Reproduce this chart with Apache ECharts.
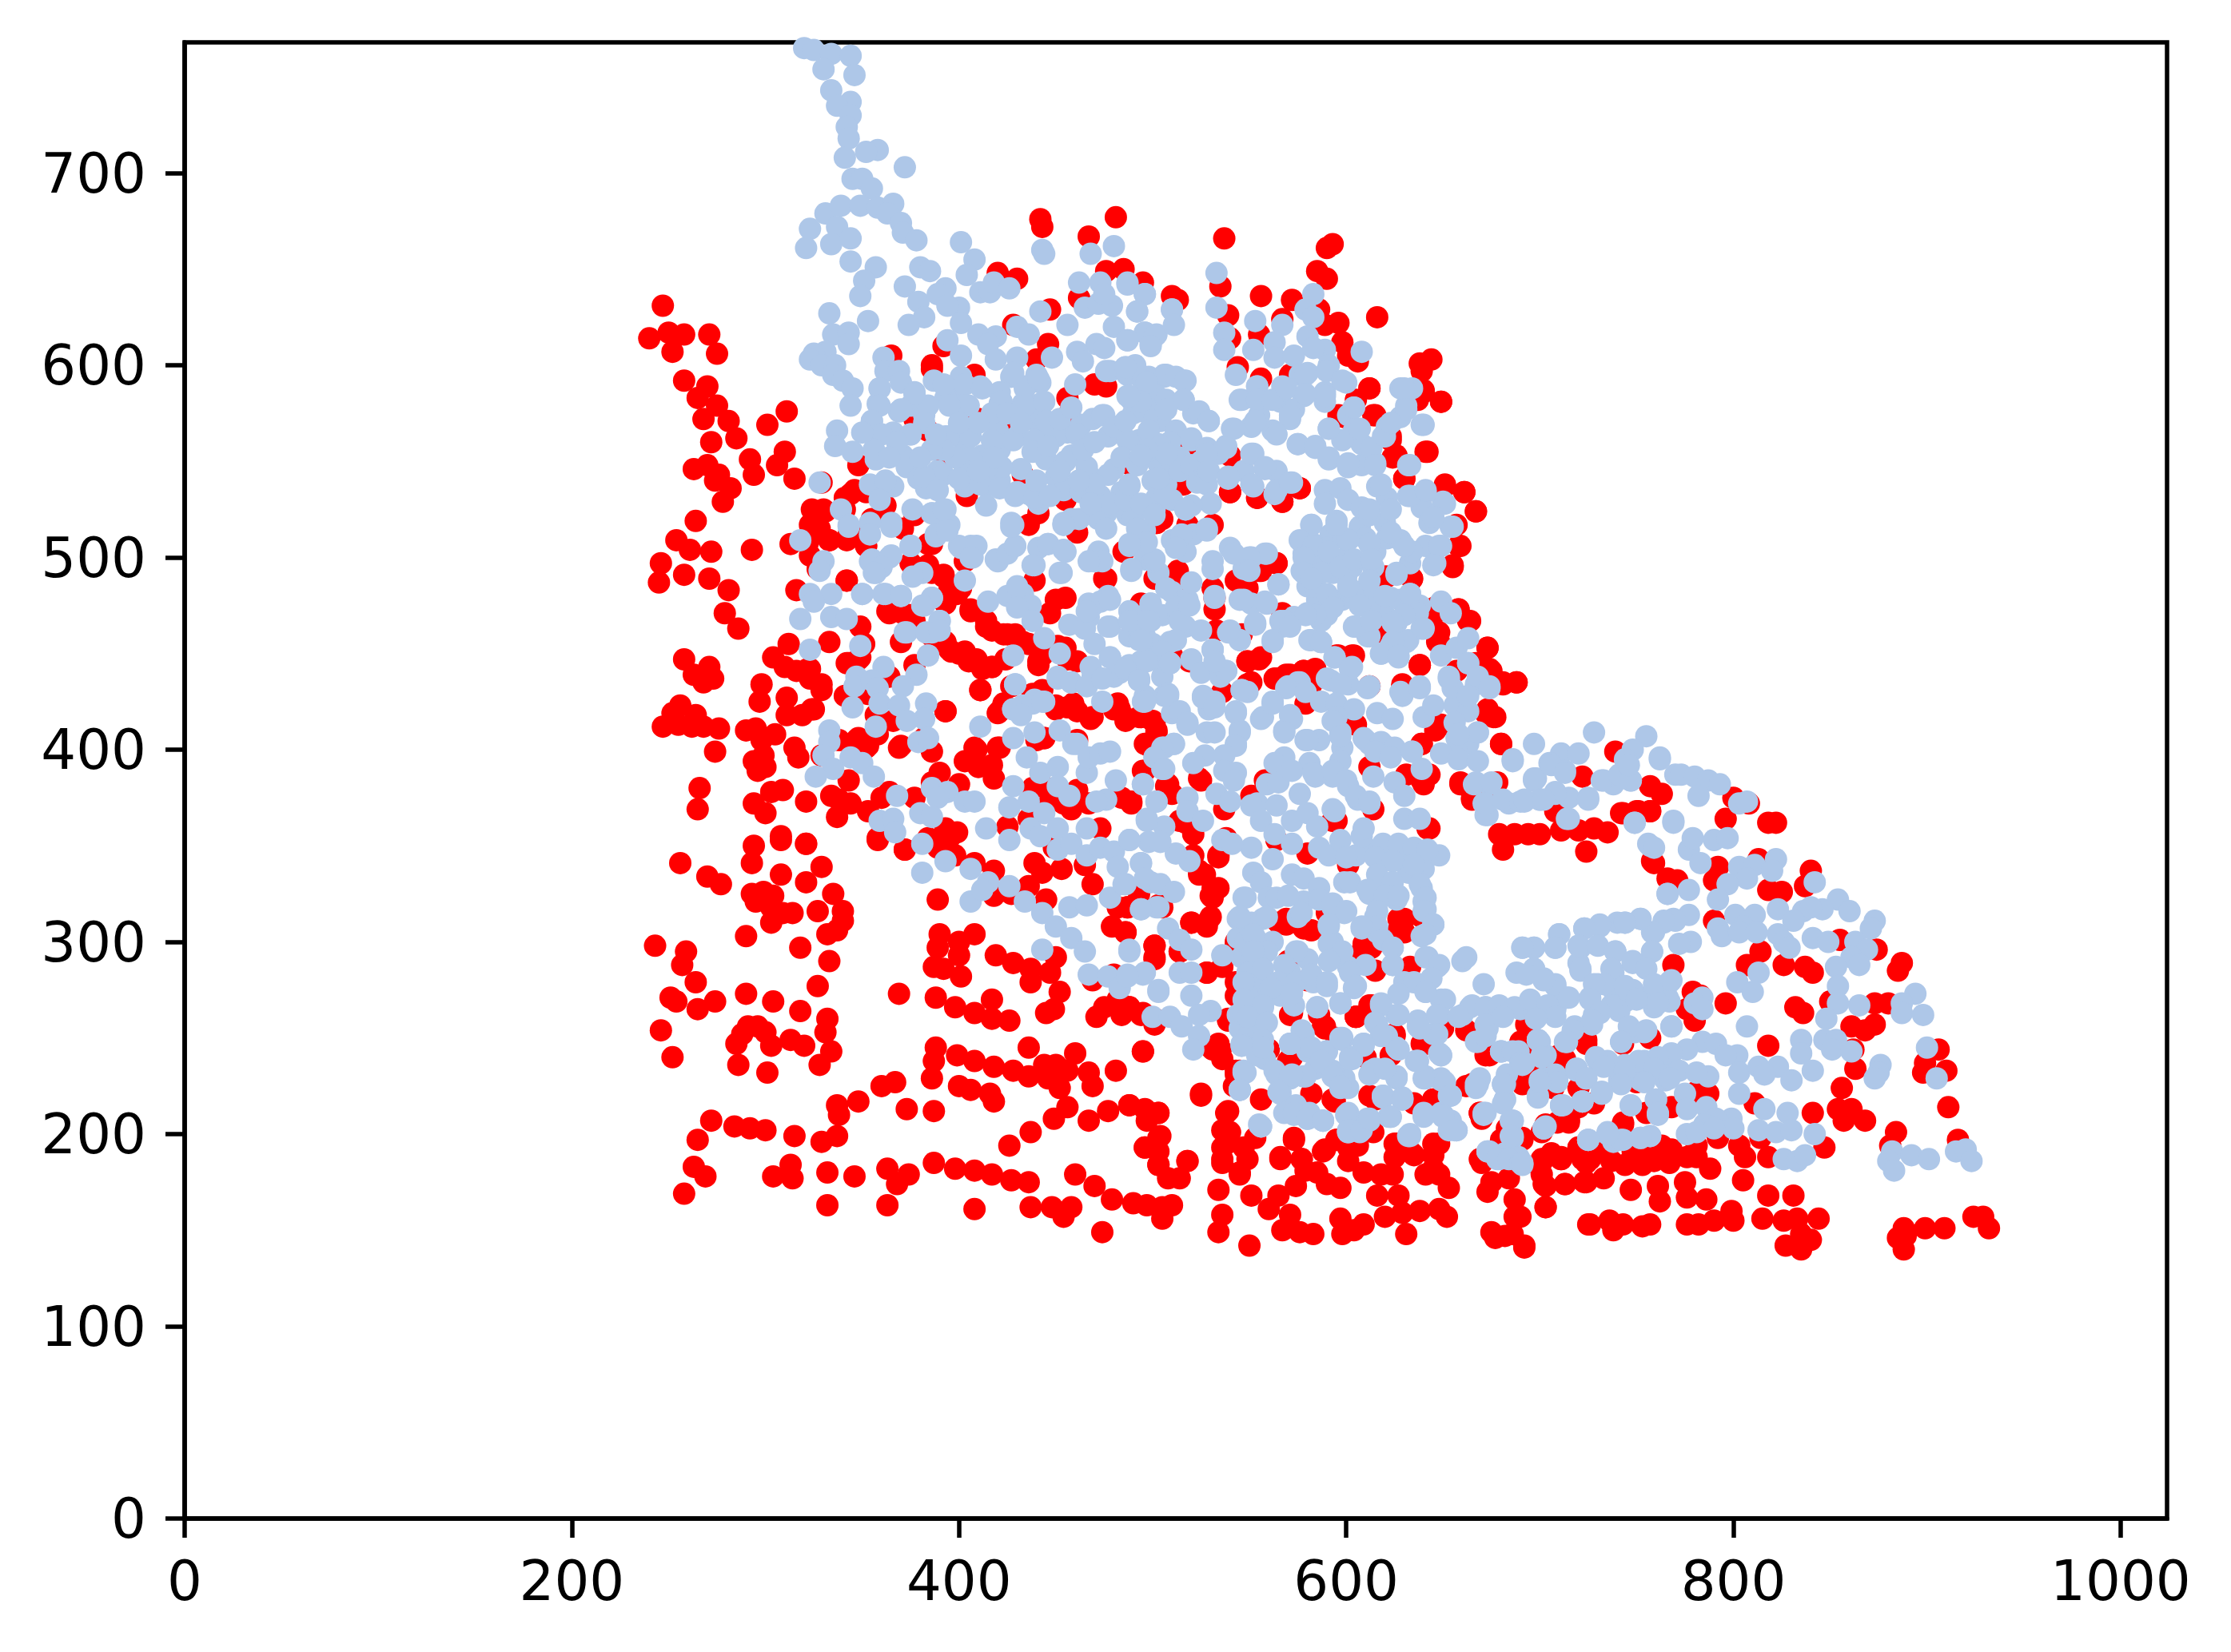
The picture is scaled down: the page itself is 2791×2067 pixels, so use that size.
<!DOCTYPE html>
<html>
<head>
<meta charset="utf-8">
<title>scatter</title>
<script src="https://cdn.jsdelivr.net/npm/echarts@6/dist/echarts.min.js"></script>
<style>
html, body { margin: 0; padding: 0; background: #fff; }
#chart { width: 2791px; height: 2067px; }
</style>
</head>
<body>
<div id="chart"></div>
<script>
// tick labels
var xTicks = [0, 200, 400, 600, 800, 1000];
var yTicks = [0, 100, 200, 300, 400, 500, 600, 700];

// red points
var redLowerLeft = [[256,341],[270,334],[277,330],[293,341],[294,350],[308,353],[321,351],[308,335],[329,339],[321,331],[335,325],[293,325],[299,326],[304,324],[295,321],[303,318],[309,315],[314,315],[303,310],[327,316],[340,316],[340,311],[337,306],[332,304],[290,303],[318,297],[333,290],[243,298],[259,295],[257,288],[264,279],[251,271],[254,269],[265,265],[274,269],[246,254],[252,240],[290,273],[304,269],[318,264],[327,277],[332,260],[331,253],[334,243],[328,236],[286,236],[301,232],[285,247],[288,252],[291,256],[296,256],[300,253],[303,246],[313,249],[320,246]];
var redBottomLeft = [[272,207],[265,197],[284,204],[292,203],[300,202],[315,199],[329,196],[337,199],[337,215],[338,210],[348,217],[360,225],[367,227],[373,213],[387,212],[263,183],[269,178],[258,169],[313,184],[304,178],[314,177],[332,180],[346,178],[363,182],[374,179],[368,174],[332,163],[363,163]];
var redBottomMid = [[386,229],[387,238],[388,245],[399,241],[408,238],[418,235],[428,233],[436,230],[444,236],[450,236],[446,229],[452,224],[456,233],[467,232],[469,225],[460,242],[436,245],[495,243],[481,233],[400,225],[406,223],[416,221],[418,217],[456,214],[449,208],[477,212],[467,207],[488,215],[496,213],[503,211],[497,207],[503,198],[496,193],[503,191],[503,184],[508,177],[518,186],[514,177],[437,201],[426,194],[387,185],[398,182],[408,181],[417,179],[427,176],[436,175],[460,179],[470,173],[479,166],[490,164],[497,163],[505,162],[510,163],[505,156],[454,157],[437,162],[448,162],[458,162],[408,161],[474,149]];
var redCentreLow = [[389,322],[390,304],[389,297],[387,287],[392,286],[401,282],[400,300],[400,293],[408,304],[419,293],[428,289],[437,286],[437,279],[450,292],[447,284],[452,274],[369,273],[388,271],[398,266],[408,263],[417,260],[417,270],[426,259],[445,263],[449,265],[471,261],[475,266],[484,262],[482,270],[488,266],[495,263],[501,260],[439,341],[443,336],[453,338],[465,340],[469,330],[418,337],[408,341],[398,345],[389,349],[372,348],[358,353],[436,329],[445,322],[427,325],[418,324],[487,318],[479,308],[486,305],[501,298],[501,292],[514,295],[503,319],[493,325],[469,280],[480,283]];
var redUpperLeft = [[264,519],[254,509],[261,504],[272,503],[246,497],[258,491],[245,487],[271,489],[281,483],[279,471],[286,463],[293,504],[258,447],[271,443],[263,439],[268,435],[273,437],[256,423],[252,419],[264,418],[247,412],[255,413],[262,412],[268,412],[276,411],[274,399],[290,410],[295,411],[305,408],[298,405],[299,397],[294,394],[300,391],[296,389],[266,380],[265,369],[303,378],[309,379],[294,372],[300,367],[321,373],[308,355],[321,351],[298,434],[297,425],[311,427],[311,418],[319,418],[325,421],[315,401],[317,396],[304,448],[312,455],[310,443],[316,441],[322,442],[323,437],[329,434],[333,456],[313,507],[333,509],[323,517],[323,501],[327,494],[342,488],[316,483],[343,512],[352,506]];
var redTopLeft = [[247,631],[240,614],[250,617],[258,616],[271,616],[252,607],[275,606],[258,592],[270,589],[265,583],[275,579],[268,572],[281,571],[272,560],[285,562],[301,569],[270,548],[263,546],[276,543],[274,540],[292,551],[294,543],[310,555],[306,548],[282,536],[278,529],[315,541],[329,539],[341,531],[346,535],[331,524],[341,525],[328,515],[344,512],[355,520],[351,513],[377,522],[371,515],[311,576],[386,600],[344,533],[322,508]];
var redCentreMid = [[343,445],[348,447],[351,455],[341,428],[364,438],[349,464],[370,456],[363,472],[371,471],[377,467],[375,497],[384,496],[392,490],[395,483],[401,484],[393,476],[406,472],[414,467],[417,462],[423,460],[429,460],[436,455],[443,449],[441,444],[451,454],[456,447],[403,498],[386,507],[403,451],[396,451],[409,447],[405,446],[412,442],[417,443],[424,447],[393,456],[377,444],[411,431],[427,433],[438,429],[423,424],[420,419],[443,431],[450,423],[456,422],[461,420],[468,416],[482,424],[480,421],[487,416],[493,417],[500,415],[502,410],[498,402],[393,420],[353,429],[358,408],[347,405],[352,401],[369,401],[386,399],[382,406],[366,415],[357,418],[409,400],[420,401],[403,394],[410,391],[417,392],[418,385],[400,382],[390,388],[386,383],[377,375],[364,378],[360,375],[353,368],[334,376],[344,372],[337,365],[338,374],[343,384],[338,405],[329,397],[438,380],[445,380],[461,379],[447,373],[454,372],[458,369],[467,372],[473,359],[425,360],[436,364],[440,405],[444,406],[461,405],[475,489],[489,373],[484,375],[495,389],[393,359],[399,357],[384,354],[395,354],[372,348],[358,354],[449,349],[482,318]];
var redTop = [[442,676],[443,672],[467,667],[481,677],[537,666],[590,661],[593,663],[585,649],[590,645],[535,641],[556,636],[572,634],[616,625],[539,626],[596,622],[567,624],[555,616],[540,614],[598,612],[606,602],[601,605],[586,629],[589,621],[510,636],[495,643],[485,650],[476,649],[462,635],[447,629],[430,645],[420,648],[513,634],[465,631],[446,611],[428,621],[440,603],[408,595],[392,610],[401,580],[410,572],[365,605],[386,598],[425,565],[440,560],[455,530],[470,590],[457,575],[544,599],[556,593],[571,595],[612,588],[638,601],[644,603],[639,597],[640,587],[649,581],[637,582],[614,574],[599,573],[642,555],[623,563],[626,553],[630,541],[651,537],[661,534],[667,524],[657,517],[658,506],[655,495],[634,489],[621,490]];
var redRightUpper = [[564,497],[555,493],[540,534],[554,531],[567,529],[576,536],[547,482],[532,479],[505,520],[518,517],[531,517],[518,556],[540,553],[549,446],[555,447],[638,444],[673,453],[674,442],[688,435],[681,435],[658,473],[663,467],[646,474],[648,461],[648,456],[603,449],[596,449],[578,441],[571,439],[563,437],[551,435],[629,434],[657,441],[667,445],[582,434],[612,433],[533,462],[546,460],[612,464],[615,466],[567,471],[510,449],[519,446],[494,476],[502,518],[514,485],[501,489]];
var redMidRight = [[681,348],[724,347],[759,341],[679,356],[687,356],[700,356],[711,358],[720,358],[735,357],[728,359],[694,356],[708,368],[722,386],[739,399],[659,382],[665,375],[676,382],[680,403],[639,403],[649,413],[672,419],[676,417],[742,367],[751,368],[757,368],[757,381],[763,377],[766,333],[501,414],[494,417],[486,415],[497,403],[496,389],[508,382],[510,377],[525,384],[520,361],[514,363],[489,372],[564,353],[580,346],[538,354],[558,384],[551,376],[593,363],[601,340],[612,391],[639,384],[643,359]];
var redDenseCore = [[520,310],[530,313],[528,308],[534,328],[524,335],[531,323],[528,284],[536,287],[543,300],[514,295],[501,298],[501,291],[486,305],[487,318],[505,318],[534,344],[521,345],[527,335],[630,305],[639,313],[627,312],[612,305],[608,295],[569,312],[578,307],[543,272],[488,266],[494,262],[501,257],[539,259],[534,247],[536,239],[545,233],[542,225],[560,244],[571,239],[588,256],[586,262],[571,262],[605,261],[612,267],[625,252],[641,247],[623,241],[665,226],[662,254],[672,241],[691,247],[710,241],[691,226],[700,234],[720,224],[715,206],[724,247],[693,257],[645,218],[615,218],[593,218],[582,221],[570,290],[590,315],[600,290],[615,285],[580,280],[560,275],[595,250],[610,240],[650,255]];
var redCoreExtra = [[630,312],[609,299],[613,297],[627,306],[569,309],[565,310],[582,306],[633,287],[613,267],[589,255],[572,263],[605,261],[570,238],[625,251],[639,247],[674,241],[695,230],[690,248],[699,240],[614,369],[595,363],[642,359],[643,387],[631,387],[640,382],[659,383],[678,383],[665,374],[517,362],[521,356],[507,381],[524,385],[537,369],[534,345],[524,337],[531,328],[530,324],[520,310],[528,310],[528,284],[543,298],[543,279],[539,260],[535,244],[543,231],[525,220],[594,218],[647,216],[670,208],[684,203]];
var redLowCentre = [[495,243],[525,221],[488,215],[497,212],[503,211],[504,199],[496,193],[503,184],[518,186],[538,211],[540,201],[536,193],[547,193],[536,185],[545,180],[553,198],[573,198],[566,187],[577,187],[589,192],[601,193],[595,197],[614,201],[626,195],[634,190],[645,195],[625,188],[645,182],[669,187],[680,197],[691,197],[702,187],[711,187],[726,187],[743,205],[720,193],[737,186],[748,188],[759,190],[768,192],[709,206],[669,211],[683,203]];
var redLowStrip = [[539,212],[536,202],[538,195],[536,187],[549,187],[545,179],[534,171],[551,168],[560,161],[565,168],[574,173],[536,158],[534,149],[550,142],[567,150],[571,158],[576,149],[583,148],[573,197],[566,188],[577,187],[579,181],[588,191],[595,197],[606,194],[601,186],[585,180],[590,174],[597,172],[609,180],[618,179],[624,179],[616,168],[627,168],[620,157],[629,159],[638,160],[648,161],[652,157],[653,172],[641,179],[648,179],[626,190],[635,189],[645,189],[648,195],[625,195],[597,156],[609,153],[604,150],[598,148],[631,148],[670,185],[675,175],[684,177],[673,170],[687,166],[687,157],[675,149],[677,146],[682,147],[686,148],[692,141],[703,162],[701,179],[703,173],[713,174],[723,175],[725,153],[701,187],[711,187],[722,187],[531,244],[535,244],[543,233],[556,218],[572,240],[589,256],[605,261],[594,217],[612,220],[635,216],[645,218],[662,225],[669,211],[684,202],[690,198],[701,201],[715,207]];
var redRightEdge = [[822,362],[818,362],[808,372],[796,364],[800,375],[758,342],[767,332],[771,332],[790,332],[792,339],[813,343],[818,327],[825,326],[840,337],[837,329],[887,289],[885,285],[874,296],[855,301],[807,288],[814,295],[826,288],[837,287],[841,284],[769,288],[790,311],[796,268],[779,274],[783,272],[776,265],[780,259],[787,221],[832,266],[836,263],[850,269],[873,268],[880,268],[873,257],[868,254],[861,256],[862,244],[863,234],[906,244],[899,237],[898,232],[910,233],[911,214],[856,224],[854,213],[861,213],[868,207],[857,207],[841,211],[818,246],[811,216],[847,193],[884,201],[881,194],[916,197],[743,367],[750,368],[757,368]];
var redLowRight = [[744,184],[753,184],[759,186],[767,185],[776,188],[781,188],[788,182],[748,191],[763,194],[781,194],[792,198],[803,194],[806,188],[818,188],[814,198],[720,193],[733,191],[724,185],[711,188],[706,190],[700,183],[702,174],[713,174],[724,175],[733,177],[703,162],[690,157],[692,142],[747,171],[761,173],[762,165],[775,175],[776,167],[786,166],[805,176],[818,168],[831,168],[726,153],[736,155],[738,150],[743,153],[753,152],[757,153],[776,153],[782,153],[790,155],[799,160],[800,155],[815,156],[826,155],[833,156],[844,156],[835,148],[840,145],[827,142],[835,140],[888,151],[899,151],[909,151],[885,146],[889,147],[888,140],[924,157],[929,157],[932,151],[715,208],[743,206],[703,205],[691,198],[713,239],[707,224],[720,214],[728,216],[750,227],[781,222],[768,214],[755,211],[757,250],[743,247],[724,249]];
var redBand = [[386,492],[392,491],[399,481],[406,473],[414,464],[425,460],[433,456],[441,446],[455,453],[461,446],[400,450],[408,446],[417,443],[395,452],[386,459],[364,471],[375,470],[450,478],[455,479],[447,471],[439,488],[469,417],[483,421],[494,417],[502,409],[496,403],[450,421],[459,424],[421,420],[411,431],[393,420],[370,402],[408,401],[421,401],[444,406],[348,406],[353,402],[324,421],[342,445],[349,448],[323,442],[329,431],[342,488],[333,509],[324,525],[330,525],[324,518],[352,506],[502,518],[476,489],[485,503],[456,583],[476,589],[489,548],[516,538],[513,493],[473,524],[441,523],[436,517],[461,513],[433,543],[404,532],[393,552],[377,572],[384,566],[348,548],[352,534],[362,527],[342,509],[384,507]];
var redRightBlob = [[612,588],[640,586],[649,581],[641,555],[624,552],[630,541],[651,538],[661,534],[667,524],[659,506],[655,496],[634,489],[620,490],[576,536],[567,529],[554,531],[540,534],[564,497],[556,493],[549,446],[556,448],[638,444],[673,453],[675,441],[688,435],[681,434],[658,473],[664,467],[645,470],[646,461],[647,456],[604,449],[595,449],[584,442],[578,441],[569,439],[564,437],[549,434],[536,430],[629,433],[618,461],[613,464],[677,417],[673,421],[646,410],[680,403],[639,403],[579,424],[605,413],[531,484],[549,484],[543,488],[532,473],[615,574],[605,582],[596,574],[623,561]];

// light blue points, drawn over the red ones
var blueTopStem = [[320,765],[325,764],[334,762],[344,761],[330,754],[346,751],[334,743],[344,737],[337,735],[344,730],[342,724],[343,718],[358,712],[352,711],[341,708],[372,703],[345,697],[350,697],[355,692],[331,679],[339,683],[349,683],[358,682],[366,684],[363,679],[370,674],[371,669],[378,665],[337,672],[323,671],[321,661],[334,663],[344,666],[344,654],[357,651],[351,644],[349,636]];
var blueUpperA = [[401,664],[408,655],[404,647],[411,638],[416,638],[418,643],[426,640],[443,660],[444,658],[468,658],[480,662],[380,651],[385,649],[372,641],[379,633],[393,640],[389,637],[400,630],[394,631],[382,625],[374,621],[401,622],[333,627],[353,623],[335,616],[343,617],[343,611],[331,607],[325,606],[323,603],[329,600],[336,600],[335,595],[340,592],[345,588],[344,579],[394,613],[401,605],[410,616],[419,615],[415,611],[430,620],[436,616],[442,628],[456,621],[462,643],[473,643],[487,643],[496,637],[492,628],[465,630],[472,632],[479,631],[475,637],[480,620],[471,611],[475,609],[487,613],[496,617],[502,616],[499,611],[510,629],[448,604],[461,607],[464,602],[460,590]];
var blueUpperB = [[419,603],[430,604],[440,595],[442,591],[427,594],[434,588],[361,604],[362,597],[369,597],[370,591],[359,588],[358,580],[377,586],[375,579],[382,574],[369,576],[355,571],[387,592],[398,588],[411,589],[401,594],[421,586],[421,580],[393,583],[405,579],[417,574],[433,580],[442,580],[440,571],[337,566],[336,558],[366,565],[375,564],[393,563],[403,560],[420,566],[430,563],[445,566],[456,565],[463,569],[475,574],[489,582],[478,597],[486,599],[491,599],[498,594],[506,594],[502,584],[495,576],[504,571],[356,556],[357,551],[371,553],[373,547],[379,541],[389,545],[383,536],[403,548],[412,553],[421,556],[403,537],[414,537],[421,540],[432,546],[436,533],[429,532],[441,528],[445,551],[458,553],[467,543],[480,546],[488,537],[476,523],[454,535],[458,520],[502,553],[493,561],[500,540],[487,522],[501,525],[328,539],[354,538],[366,537],[362,540],[359,530],[339,525],[376,525],[393,525],[386,523],[414,527],[343,517],[354,518],[365,518],[395,517],[427,518],[454,517]];
var blueDenseLeft = [[392,590],[403,590],[412,588],[422,581],[417,575],[403,579],[395,579],[384,579],[377,585],[370,577],[382,570],[375,564],[359,588],[359,579],[355,571],[360,564],[356,556],[395,563],[406,563],[417,561],[428,561],[439,561],[450,563],[461,564],[469,572],[474,574],[477,563],[487,561],[406,552],[422,547],[414,546],[403,545],[392,543],[382,542],[389,535],[400,541],[411,538],[421,536],[430,534],[439,531],[450,542],[455,550],[466,547],[477,543],[455,536],[463,534],[473,532],[484,534],[490,521],[496,514],[488,506],[472,520],[462,520],[454,518],[472,503],[470,498],[503,549],[502,557],[496,554],[507,538],[502,531],[517,525],[510,509],[517,503],[496,499],[503,492],[510,482],[518,478],[496,470],[469,475],[467,469],[477,480],[478,464],[488,459],[496,459],[509,456],[517,464],[494,446],[478,448],[493,437],[509,445],[434,589],[441,593],[428,596],[434,579],[444,581],[445,571],[476,597],[487,595],[495,592],[506,595],[516,592],[487,584],[516,582],[507,582],[498,575],[490,575],[521,575],[503,559],[520,561],[510,547],[523,539]];
var blueDenseLow = [[433,481],[428,481],[419,499],[429,506],[439,496],[446,507],[455,503],[453,492],[406,506],[400,506],[407,500],[390,514],[388,511],[386,523],[392,525],[428,517],[375,506],[355,499],[364,500],[357,492],[362,481],[370,480],[350,481],[382,475],[386,479],[390,467],[386,461],[373,461],[384,449],[469,438],[458,435],[451,437],[429,434],[433,423],[428,421],[439,426],[444,425],[507,428],[510,419],[518,413],[511,403],[461,403]];
var blueSolidFill = [[425,575],[432,570],[438,555],[446,558],[452,572],[458,578],[464,556],[470,560],[480,568],[484,552],[492,548],[498,566],[512,566],[514,552],[509,560],[470,538],[478,528],[486,530],[494,528],[510,530],[514,545],[520,548],[527,546],[440,540],[447,532],[452,545],[462,540],[468,528],[418,552],[410,545],[398,552],[392,556],[386,556],[380,552],[410,570],[400,570],[388,564],[368,560],[364,552],[350,565],[345,555],[585,498],[592,512],[600,500],[607,516],[615,503],[620,518],[600,490],[607,482],[590,470],[598,478],[585,478],[613,480],[620,470],[628,478],[580,485],[544,302],[546,292],[544,262],[545,255],[550,252],[553,278],[555,268],[548,300],[610,349],[628,345],[640,338],[632,336],[648,345],[605,345],[505,470],[512,474],[470,455],[505,438],[480,438],[500,455]];
var blueLeftMid = [[318,509],[330,498],[328,493],[343,516],[354,512],[365,516],[375,506],[388,512],[394,514],[401,505],[409,506],[406,500],[420,498],[425,502],[429,506],[441,505],[446,507],[454,504],[438,496],[452,492],[427,516],[454,517],[476,515],[489,493],[474,498],[467,498],[500,498],[354,498],[365,501],[360,495],[356,492],[381,492],[376,490],[403,488],[323,481],[334,481],[325,477],[350,481],[361,481],[370,480],[386,479],[381,475],[415,477],[425,480],[430,485],[437,475],[430,474],[438,467],[318,468],[334,469],[342,468],[390,467],[383,461],[390,462],[372,461],[457,465],[444,458],[465,463],[467,476],[473,477],[478,478],[466,472],[477,464],[488,472],[493,467],[499,467],[499,476],[493,457],[502,470],[323,452],[349,454],[384,449],[428,449],[452,450],[478,448],[468,443],[483,440],[493,436],[488,444],[499,447],[505,451]];
var blueLeftLow = [[361,443],[378,439],[347,438],[346,433],[355,436],[371,433],[358,432],[359,424],[369,423],[345,422],[383,424],[382,416],[373,415],[357,412],[333,410],[333,404],[330,397],[344,396],[350,393],[335,390],[326,386],[356,386],[379,404],[384,406],[411,412],[428,406],[439,409],[435,396],[429,434],[428,421],[438,424],[443,425],[432,418],[451,438],[458,435],[466,433],[474,437],[474,425],[495,425],[506,428],[452,410],[459,403],[466,388],[467,396],[473,398],[478,399],[481,384],[476,374],[471,373],[495,382],[502,373],[501,396],[506,401],[505,390],[497,364],[506,360],[498,352],[442,388],[451,391],[451,381],[457,376],[428,381],[436,373],[426,370],[444,367],[437,359],[451,359],[466,359],[442,355],[414,359],[426,353],[381,351],[393,342],[381,336],[406,338],[415,331],[426,329],[406,321],[412,327],[434,321],[443,315],[450,308],[458,302],[465,295],[443,296],[457,318],[466,319],[488,296],[467,283],[477,282],[487,283],[495,283],[483,276],[503,275],[451,348],[458,351],[466,345],[473,349],[480,347],[488,353],[482,339],[494,341],[499,331],[486,330],[478,323],[494,317],[503,318],[386,380],[394,378],[403,373],[408,373],[389,375],[368,376],[380,367],[386,365],[359,363],[366,364],[367,357]];
var blueCentreTop = [[533,648],[533,630],[487,642],[496,637],[492,628],[510,629],[511,621],[496,617],[487,613],[501,615],[499,610],[537,617],[537,608],[553,623],[567,621],[552,608],[563,612],[563,604],[573,605],[583,637],[579,629],[583,625],[580,615],[589,608],[583,609],[608,607],[591,600],[543,595],[554,589],[580,596],[576,595],[600,591],[589,586],[589,581],[567,589],[578,584],[546,582],[556,581],[566,581],[573,577],[571,572],[555,574],[551,568],[562,566],[541,567],[491,600],[486,599],[507,595],[512,594],[517,592],[497,591],[516,582],[507,577],[494,581],[524,576],[529,571],[488,584],[486,571],[520,562],[538,558],[528,557],[504,558],[507,554],[497,556],[494,553],[525,550],[534,554],[539,541],[528,538],[506,533],[503,541],[488,538],[530,528],[520,527],[517,525],[501,522],[492,515],[552,554],[552,537],[563,533],[572,539],[558,546],[547,545],[564,545],[575,559],[584,558],[591,551],[591,567],[601,547],[608,548],[615,549],[604,566],[601,574],[604,578],[608,559],[621,568],[619,563],[628,573],[631,579],[628,588],[634,588],[639,569],[632,548]];
var blueCentreRight = [[616,537],[589,535],[597,536],[589,528],[601,530],[608,526],[612,522],[621,531],[632,532],[641,534],[650,529],[639,526],[654,516],[643,518],[582,517],[595,519],[577,508],[583,507],[578,502],[590,505],[599,510],[610,510],[621,510],[628,509],[649,506],[641,506],[646,497],[633,497],[626,491],[577,493],[584,485],[593,492],[603,495],[614,495],[603,482],[593,475],[612,474],[623,479],[633,481],[638,475],[639,463],[626,466],[604,464],[611,459],[632,457],[623,454],[627,448],[618,450],[649,477],[654,471],[649,449],[657,453],[663,458],[663,445],[653,437],[674,433],[667,434],[638,433],[628,430],[612,433],[601,434],[594,448],[603,443],[592,436],[580,471],[573,469],[566,467],[567,464],[562,457],[581,457],[587,456],[587,467],[565,486],[559,502],[551,500],[547,494],[540,505],[531,494],[528,515],[521,512],[515,512],[532,480],[545,478],[551,476],[559,476],[553,465],[545,457],[540,462],[525,462],[514,467],[519,475],[512,457],[499,476],[489,494],[501,499],[507,484],[520,487],[512,505],[497,508],[488,507],[488,467],[498,467],[494,457],[531,452],[505,451],[509,445],[520,447],[525,440],[538,441],[535,438],[497,446],[486,442],[493,436],[508,429],[526,428],[546,431],[570,433],[576,435],[496,428]];
var blueDenseRight = [[545,582],[554,589],[554,582],[562,582],[569,588],[579,595],[590,597],[589,584],[598,592],[579,585],[571,574],[553,571],[542,567],[529,571],[538,557],[528,554],[529,545],[539,542],[551,554],[551,538],[558,547],[564,535],[571,539],[564,564],[575,559],[584,557],[591,552],[601,549],[598,561],[604,578],[591,567],[607,567],[613,557],[620,563],[615,548],[630,588],[631,577],[623,570],[640,569],[633,548],[618,538],[612,525],[623,525],[633,532],[641,535],[651,528],[655,516],[645,521],[648,506],[645,496],[634,503],[626,492],[630,506],[623,513],[612,507],[601,509],[595,517],[582,517],[576,509],[583,506],[591,503],[578,500],[578,492],[587,492],[597,495],[604,499],[613,499],[612,488],[601,485],[590,481],[582,489],[593,474],[607,475],[620,480],[633,481],[637,471],[630,470],[624,466],[640,463],[631,456],[624,456],[618,450],[627,449],[612,459],[605,464],[613,467],[584,470],[579,470],[568,467],[571,464],[562,456],[582,457],[587,456],[594,448],[602,442],[590,437],[597,434],[611,432],[575,435],[569,432],[562,425],[579,430],[587,425],[595,424],[604,421],[616,419],[624,416],[640,417],[629,428],[638,432],[645,423],[656,423],[663,420],[655,432],[653,438],[663,445],[668,438],[674,432],[663,428],[656,414],[668,409],[657,406],[663,403],[657,399],[634,399],[620,402],[612,403],[609,406],[598,401],[597,409],[595,417],[579,405],[586,405],[568,410],[572,416],[557,417],[543,420],[545,410],[529,421],[528,409],[543,403],[532,425],[527,427],[549,430],[538,441],[531,452],[532,446],[553,466],[545,457],[539,461],[558,477],[547,478],[532,479],[565,486],[558,502],[550,500],[542,502],[531,498],[528,514],[550,493]];
var blueCoreA = [[496,425],[508,428],[514,420],[526,427],[532,422],[546,431],[556,416],[562,424],[571,418],[568,409],[543,419],[545,409],[532,409],[518,414],[511,403],[505,401],[501,396],[506,390],[495,382],[502,373],[497,363],[543,402],[527,397],[521,393],[537,397],[537,389],[543,388],[542,384],[533,377],[518,375],[518,368],[526,363],[540,373],[554,372],[559,382],[568,396],[563,393],[581,393],[580,405],[593,415],[597,407],[597,394],[584,386],[593,386],[601,381],[606,374],[612,372],[594,368],[610,405],[618,404],[625,401],[615,399],[623,396],[614,386],[634,399],[639,390],[625,383],[630,376],[630,364],[638,364],[649,398],[658,395],[668,394],[668,409],[658,408],[697,403],[686,395],[728,409],[711,398],[720,398],[705,393],[713,389],[697,384],[755,407],[748,400],[762,396],[744,395],[733,384],[747,384],[738,382],[666,382],[674,382],[671,372],[672,366],[684,372],[692,373],[700,374],[708,378],[715,375],[725,375],[714,364],[749,362],[769,363],[757,350],[766,325],[770,387]];
var blueCoreB = [[551,349],[536,353],[541,351],[519,342],[512,346],[504,352],[488,353],[494,341],[496,333],[504,330],[511,326],[502,318],[494,317],[485,330],[488,295],[508,307],[514,301],[520,296],[536,293],[496,284],[487,282],[514,284],[520,284],[503,274],[520,272],[530,264],[524,262],[500,261],[509,261],[515,256],[524,251],[521,244],[552,336],[562,343],[556,331],[572,335],[578,333],[560,323],[548,323],[544,312],[551,310],[557,312],[575,313],[578,321],[586,328],[593,318],[599,315],[591,308],[553,302],[562,300],[551,290],[575,295],[593,300],[597,295],[608,307],[599,331],[612,325],[619,331],[626,322],[615,313],[639,328],[640,321],[641,317],[645,309],[639,303],[616,305],[624,297],[624,288],[610,288],[642,292],[647,287],[549,284],[549,272],[547,262],[557,266],[557,256],[566,272],[573,267],[585,266],[597,268],[583,279],[571,284],[590,277],[604,276],[601,287],[618,268],[630,279],[641,274],[649,270],[648,262],[637,256],[626,262],[616,257],[621,251],[645,252],[546,246],[555,246],[547,233],[545,223],[558,239],[564,231],[577,254],[571,247],[582,244],[598,250],[590,243],[609,247],[603,239],[584,234],[571,229],[599,229],[601,224],[566,221],[613,233],[626,229],[626,245],[636,238],[648,242],[641,229],[649,228],[654,220],[619,220],[629,218],[573,210],[580,208],[588,207],[601,210],[601,201],[607,201],[612,207],[623,209],[640,210],[649,211],[654,207],[657,202],[632,199],[555,205]];
var blueCoreC = [[551,371],[556,363],[563,356],[572,351],[564,371],[572,363],[580,367],[576,377],[565,383],[572,389],[583,388],[593,389],[600,384],[605,376],[612,373],[593,369],[585,360],[586,349],[591,345],[597,353],[608,355],[619,351],[627,351],[635,349],[642,348],[609,359],[600,344],[615,344],[624,342],[635,340],[616,335],[624,331],[602,331],[611,327],[620,324],[638,330],[641,323],[627,324],[640,316],[645,309],[641,304],[616,316],[616,308],[608,308],[619,301],[624,297],[624,288],[641,292],[648,288],[644,281],[635,279],[651,270],[641,274],[627,273],[618,267],[615,258],[618,251],[627,262],[637,259],[647,262],[647,252],[638,255],[649,241],[627,244],[637,238],[641,230],[649,229],[653,220]];
var blueCoreD = [[547,323],[545,313],[552,304],[559,313],[564,323],[570,324],[577,315],[586,322],[593,320],[600,316],[591,309],[591,299],[598,295],[591,290],[580,291],[574,295],[568,288],[559,295],[552,295],[550,284],[557,286],[565,279],[574,279],[582,283],[590,279],[602,284],[605,277],[597,268],[585,266],[572,273],[561,276],[547,279],[547,270],[557,267],[549,261],[559,258],[557,249],[546,247],[554,241],[563,233],[571,229],[578,230],[566,222],[577,247],[571,247],[580,243],[590,243],[598,249],[609,247],[602,240],[593,233],[597,224],[615,234],[626,230],[619,219],[629,219],[622,209],[611,208],[601,211],[601,201],[608,204],[640,211],[650,209],[657,202],[653,202],[633,200],[574,215],[581,211],[588,207],[568,211],[556,204],[545,223],[548,232]];
var blueCoreE = [[660,262],[665,267],[672,266],[680,263],[690,265],[700,263],[708,266],[668,248],[673,255],[680,243],[689,243],[692,237],[703,241],[700,248],[683,231],[668,226],[682,226],[702,229],[708,231],[672,211],[682,218],[686,207],[686,198],[703,204],[674,191],[682,190],[689,188],[667,383],[675,383],[673,366],[672,372],[681,374],[690,373],[700,374],[708,377],[698,385],[686,394]];
var blueStrip = [[546,246],[557,245],[547,232],[545,223],[556,204],[578,252],[571,247],[582,245],[597,250],[609,246],[602,239],[587,238],[579,230],[565,222],[572,231],[593,230],[597,225],[612,231],[626,230],[620,234],[619,220],[629,218],[640,229],[651,227],[654,220],[627,244],[637,238],[649,241],[573,211],[580,208],[588,207],[600,210],[601,202],[608,202],[612,208],[623,209],[640,209],[650,210],[656,202],[633,199],[667,226],[681,226],[671,211],[682,218],[686,207],[686,199],[673,191],[679,187],[686,188],[691,184],[680,243],[690,238],[701,241],[699,249],[714,248],[719,234],[699,219],[711,215],[722,217],[702,203],[725,197]];
var blueLowerRight = [[660,290],[662,292],[671,278],[691,297],[697,297],[710,304],[708,297],[723,307],[731,308],[721,297],[740,310],[744,310],[752,312],[764,310],[769,312],[759,305],[739,295],[758,295],[720,289],[721,285],[688,284],[697,286],[708,277],[702,281],[738,284],[730,278],[748,289],[754,288],[767,279],[664,266],[672,266],[679,267],[687,266],[697,264],[708,265],[714,271],[658,261],[672,257],[681,261],[667,248],[672,251],[726,271],[738,275],[748,275],[757,272],[766,271],[744,269],[728,262],[741,264],[759,266],[718,256],[727,257],[713,248],[699,249],[701,240],[680,243],[686,243],[690,237],[719,234],[724,229],[730,238],[669,229],[667,224],[681,226],[700,228],[709,229],[699,220],[711,215],[722,217],[732,221],[747,215],[760,218],[761,210],[742,248],[749,253],[754,253],[768,256],[744,236],[754,238],[766,239],[741,228],[752,228],[765,228],[671,210],[681,216],[685,207],[685,199],[702,203],[673,191],[678,187],[684,187],[690,185],[725,197],[735,201],[738,196],[743,197],[752,198],[757,199]];
var blueRightArc = [[697,385],[706,392],[713,388],[732,384],[741,387],[747,384],[746,392],[762,395],[773,387],[780,386],[787,384],[793,382],[782,376],[803,372],[807,373],[725,374],[692,374],[702,374],[715,364],[749,362],[769,362],[756,351],[759,349],[777,348],[779,354],[790,353],[797,354],[783,341],[803,339],[811,340],[807,333],[822,343],[820,337],[797,330],[792,322],[842,331],[766,325],[777,327],[823,317],[854,322],[860,316],[846,317],[836,316],[840,318],[831,311],[873,311],[871,307],[801,314],[811,314],[805,308],[792,307],[794,303],[803,305],[812,305],[823,304],[826,300],[829,297],[841,302],[849,300],[863,300],[869,296],[861,292],[853,287],[865,288]];
var blueRightBands = [[777,314],[770,311],[764,311],[758,305],[778,300],[772,299],[752,312],[744,310],[731,309],[723,307],[710,304],[697,297],[691,297],[708,297],[720,298],[730,298],[739,295],[758,295],[721,286],[748,290],[755,286],[737,286],[697,286],[708,278],[693,283],[702,280],[733,278],[728,278],[744,277],[759,278],[768,280],[715,271],[726,270],[695,270],[704,267],[737,267],[750,270],[767,269],[761,268],[708,261],[698,260],[731,263],[746,256],[755,254],[768,256],[727,259],[717,254],[742,248],[714,248],[699,249],[701,240],[690,237],[802,279],[813,284],[810,274],[784,271],[780,268],[784,265],[807,256],[854,277],[854,268],[865,267],[848,260],[894,273],[887,268],[887,263],[898,262],[847,249],[853,249],[851,244],[861,243],[835,249],[835,242],[841,233],[876,236],[875,232],[873,229],[900,245],[905,229],[803,221]];
var blueLowBand = [[784,248],[791,247],[802,241],[796,241],[776,244],[768,242],[761,240],[751,238],[735,238],[729,240],[719,233],[733,235],[744,233],[759,234],[772,233],[787,230],[781,232],[803,232],[813,235],[823,235],[816,231],[830,228],[767,229],[754,227],[742,226],[724,229],[709,227],[700,227],[691,236],[732,222],[722,217],[712,215],[775,221],[760,218],[761,211],[747,215],[776,213],[786,214],[799,208],[791,208],[816,213],[828,211],[702,203],[813,202],[822,201],[830,202],[800,203],[785,205],[776,200],[781,201],[790,203],[842,200],[757,199],[752,198],[742,197],[735,200],[725,197],[691,185],[826,187],[833,186],[837,189],[882,191],[880,186],[883,181],[892,189],[901,187],[915,191],[920,192],[923,186]];

var redParts = [redLowerLeft, redBottomLeft, redBottomMid, redCentreLow, redUpperLeft, redTopLeft, redCentreMid, redTop, redRightUpper, redMidRight, redDenseCore, redCoreExtra, redLowCentre, redLowStrip, redRightEdge, redLowRight, redBand, redRightBlob];
var blueParts = [blueTopStem, blueUpperA, blueUpperB, blueDenseLeft, blueDenseLow, blueSolidFill, blueLeftMid, blueLeftLow, blueCentreTop, blueCentreRight, blueDenseRight, blueCoreA, blueCoreB, blueCoreC, blueCoreD, blueCoreE, blueStrip, blueLowerRight, blueRightArc, blueRightBands, blueLowBand];

function axisOf(maxValue, ticks, labelMargin, labelExtra) {
	var label = {
		show: true,
		customValues: ticks,
		margin: labelMargin,
		formatter: function(value) {
			return String(value);
		},
		color: '#000',
		fontFamily: 'DejaVu Sans',
		fontSize: 69
	};
	for (var key in labelExtra) {
		label[key] = labelExtra[key];
	}
	return {
		type: 'value',
		min: 0,
		max: maxValue,
		splitLine: { show: false },
		axisLine: { show: true, onZero: false, lineStyle: { color: '#000', width: 5.5 } },
		axisTick: { show: true, length: 24, customValues: ticks, lineStyle: { color: '#000', width: 5.5 } },
		axisLabel: label
	};
}

function scatterOf(parts, color) {
	return {
		type: 'scatter',
		data: [].concat.apply([], parts),
		symbol: 'circle',
		symbolSize: 28,
		large: false,
		progressive: 0,
		itemStyle: { color: color, opacity: 1 },
		emphasis: { disabled: true }
	};
}

var chart = echarts.init(document.getElementById('chart'), null, { renderer: 'canvas' });
chart.setOption({
	animation: false,
	backgroundColor: '#fff',
	grid: {
		left: 231,
		top: 53,
		width: 2480,
		height: 1847,
		show: true,
		borderColor: '#000',
		borderWidth: 5.5,
		backgroundColor: 'transparent'
	},
	xAxis: axisOf(1024, xTicks, 50, {}),
	// top alignment so the padding moves the text down onto the tick
	yAxis: axisOf(768, yTicks, 48, { verticalAlign: 'top', padding: [-28, 0, 0, 0] }),
	series: [scatterOf(redParts, '#ff0000'), scatterOf(blueParts, '#aec7e8')]
});
</script>
</body>
</html>
